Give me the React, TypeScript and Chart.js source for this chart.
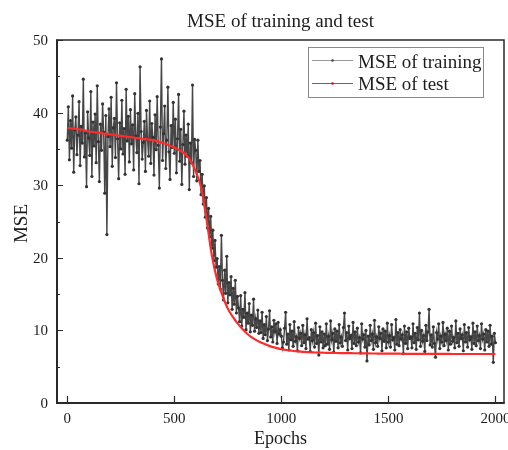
import React, { useEffect, useRef } from "react";
import { Chart, registerables } from "chart.js";

Chart.register(...registerables);

// Epoch spacing of the sampled values
const TRAIN_EPOCH_STEP = 5;
const TEST_EPOCH_STEP = 25;

// MSE of training (one value every 5 epochs, 0..2000)
const TRAIN_MSE: number[] = [
  // 0-95
  36.2, 40.8, 33.5, 38.9, 35.1, 42.3, 31.8, 37.6, 39.4, 34.2, 36.9, 41.5, 32.7, 38.1, 35.8, 44.6, 33.9, 37.2, 29.8, 40.1,
  // 100-195
  36.5, 34.1, 42.9, 31.2, 38.7, 35.4, 39.8, 33.1, 43.7, 36.0, 30.5, 38.4, 34.8, 41.2, 37.3, 28.9, 39.6, 23.2, 36.7, 40.5,
  // 200-295
  35.3, 42.1, 32.6, 37.9, 39.2, 33.8, 44.1, 36.4, 30.9, 38.6, 35.0, 41.7, 34.3, 37.8, 31.5, 43.2, 36.1, 39.5, 33.2, 40.4,
  // 300-395
  35.7, 38.3, 32.1, 42.6, 36.8, 34.5, 39.9, 30.2, 46.3, 37.4, 33.6, 35.9, 38.8, 31.9, 40.3, 36.3, 34.0, 41.6, 33.0, 38.5,
  // 400-495
  36.6, 31.4, 39.7, 34.9, 42.2, 35.5, 29.6, 38.0, 47.4, 33.4, 37.1, 40.9, 32.3, 36.2, 43.5, 34.6, 30.8, 38.2, 35.2, 41.4,
  // 500-595
  34.4, 39.1, 31.7, 36.4, 42.5, 33.3, 37.7, 30.1, 35.6, 40.2, 32.9, 36.9, 34.0, 38.4, 29.4, 35.8, 33.1, 43.8, 31.2, 36.3,
  // 600-695
  34.8, 30.6, 36.2, 31.9, 33.4, 28.7, 31.5, 27.4, 29.9, 25.6, 28.3, 24.1, 26.8, 22.9, 25.7, 21.3, 23.8, 19.6, 22.4, 18.7,
  // 700-795
  19.9, 16.4, 18.8, 15.7, 23.1, 16.9, 14.2, 18.3, 15.1, 20.2, 13.8, 16.6, 14.9, 17.4, 12.9, 15.8, 13.6, 16.9, 12.4, 14.7,
  // 800-895
  13.1, 11.2, 14.8, 10.6, 12.9, 11.8, 15.2, 10.1, 12.4, 11.0, 13.7, 9.8, 12.1, 10.7, 14.3, 9.9, 11.6, 10.4, 12.8, 9.6,
  // 900-995
  11.3, 9.7, 12.5, 8.9, 10.8, 9.4, 11.9, 8.6, 10.2, 12.7, 9.1, 10.5, 8.4, 11.4, 9.8, 10.9, 8.2, 11.1, 9.5, 10.1,
  // 1000-1095
  9.2, 7.6, 8.4, 10.3, 12.5, 8.1, 9.5, 7.3, 10.8, 8.7, 9.9, 7.8, 11.2, 8.5, 9.1, 7.2, 10.4, 8.9, 9.6, 7.9,
  // 1100-1195
  10.7, 8.3, 9.4, 7.5, 11.6, 8.8, 9.0, 7.1, 10.1, 8.6, 9.7, 7.7, 11.0, 8.2, 9.3, 6.6, 10.5, 8.4, 9.8, 7.6,
  // 1200-1295
  9.5, 7.9, 10.9, 8.1, 9.2, 7.4, 11.3, 8.7, 9.6, 7.0, 10.2, 8.5, 9.9, 7.6, 10.8, 8.3, 9.1, 7.8, 10.4, 12.4,
  // 1300-1395
  8.6, 9.7, 7.3, 10.6, 8.9, 9.3, 7.5, 11.1, 8.2, 9.8, 7.9, 10.3, 8.4, 9.0, 6.9, 10.9, 8.8, 9.4, 7.7, 10.0,
  // 1400-1495
  5.8, 9.2, 8.0, 10.7, 8.6, 9.5, 7.4, 11.4, 8.3, 9.1, 7.8, 10.5, 8.9, 9.6, 7.2, 10.2, 8.5, 9.9, 7.6, 11.0,
  // 1500-1595
  8.4, 9.3, 7.7, 10.8, 8.7, 9.0, 7.3, 11.5, 8.1, 9.7, 7.9, 10.1, 8.8, 9.4, 6.8, 10.6, 8.2, 9.8, 7.5, 10.3,
  // 1600-1695
  8.9, 9.1, 7.6, 10.9, 8.3, 9.6, 7.4, 10.4, 8.7, 12.4, 7.8, 10.0, 8.5, 9.3, 7.1, 10.7, 8.6, 9.8, 12.9, 8.0,
  // 1700-1795
  9.4, 7.7, 10.5, 8.2, 6.3, 9.7, 8.8, 10.9, 7.5, 9.2, 8.4, 11.1, 7.9, 9.5, 8.6, 10.3, 7.3, 9.9, 8.1, 10.6,
  // 1800-1895
  8.5, 9.0, 7.6, 11.3, 8.3, 9.6, 7.8, 10.2, 8.9, 9.4, 7.2, 10.8, 8.4, 9.7, 7.7, 10.4, 8.7, 9.1, 7.4, 11.0,
  // 1900-1995
  8.2, 9.8, 7.9, 10.6, 8.6, 9.3, 7.5, 10.9, 8.8, 9.5, 7.3, 10.1, 8.4, 9.9, 7.8, 10.7, 8.1, 9.2, 5.6, 9.6,
  // 2000
  8.3,
];

// MSE of test (one value every 25 epochs, 0..2000)
const TEST_MSE: number[] = [
  37.9, 37.8, 37.7, 37.6, 37.4, 37.3, 37.2, 37.1, 37.0, 36.9,
  36.8, 36.7, 36.6, 36.5, 36.4, 36.3, 36.2, 36.0, 35.8, 35.5,
  35.2, 34.8, 34.3, 33.4, 31.9, 29.7, 25.4, 20.4, 17.0, 14.8,
  13.0, 11.8, 10.8, 10.0, 9.3, 8.8, 8.4, 8.1, 7.8, 7.6,
  7.4, 7.3, 7.2, 7.1, 7.05, 7.0, 6.97, 6.94, 6.92,
  6.9, 6.89, 6.88, 6.87, 6.86, 6.85, 6.84, 6.83, 6.82, 6.81,
  6.8, 6.8, 6.79, 6.79, 6.78, 6.78, 6.77, 6.77, 6.77, 6.76,
  6.76, 6.76, 6.76, 6.75, 6.75, 6.75, 6.75, 6.75, 6.75, 6.75,
  6.75, 6.75,
];

const X_TICKS = [0, 500, 1000, 1500, 2000];
const Y_TICKS = [0, 10, 20, 30, 40, 50];
const Y_MINOR_TICKS = [5, 15, 25, 35, 45];

const TITLE = "MSE of training and test";
const X_TITLE = "Epochs";
const Y_TITLE = "MSE";
const TRAIN_LABEL = "MSE of training";
const TEST_LABEL = "MSE of test";

const SERIF = '"Liberation Serif", "Times New Roman", serif';
const TEXT = "#1c1c1c";
const TRAIN_COLOR = "#464646";
const TRAIN_POINT = "#333333";
const TEST_COLOR = "#ff2a2a";

const decorPlugin = {
  id: "decor",
  afterDraw(chart: any) {
    const ctx = chart.ctx as CanvasRenderingContext2D;
    const { left, right, top, bottom } = chart.chartArea;
    const xs = chart.scales.x;
    const ys = chart.scales.y;
    ctx.save();

    // frame
    ctx.strokeStyle = "#2a2a2a";
    ctx.lineWidth = 1.5;
    ctx.beginPath();
    ctx.moveTo(left, top);
    ctx.lineTo(right, top);
    ctx.lineTo(right, bottom);
    ctx.stroke();
    ctx.lineWidth = 2;
    ctx.beginPath();
    ctx.moveTo(left, top - 0.75);
    ctx.lineTo(left, bottom);
    ctx.lineTo(right + 0.75, bottom);
    ctx.stroke();

    // inward ticks
    ctx.lineWidth = 1.2;
    ctx.beginPath();
    for (const v of Y_TICKS) {
      const y = Math.round(ys.getPixelForValue(v)) + 0.5;
      ctx.moveTo(left, y);
      ctx.lineTo(left + 6, y);
    }
    for (const v of Y_MINOR_TICKS) {
      const y = Math.round(ys.getPixelForValue(v)) + 0.5;
      ctx.moveTo(left, y);
      ctx.lineTo(left + 3, y);
    }
    for (const v of X_TICKS) {
      const x = Math.round(xs.getPixelForValue(v)) + 0.5;
      ctx.moveTo(x, bottom);
      ctx.lineTo(x, bottom - 7);
    }
    ctx.stroke();

    // tick labels
    ctx.fillStyle = TEXT;
    ctx.font = `15px ${SERIF}`;
    ctx.textAlign = "right";
    ctx.textBaseline = "middle";
    for (const v of Y_TICKS) {
      ctx.fillText(String(v), left - 9, ys.getPixelForValue(v) + 1);
    }
    ctx.textAlign = "center";
    ctx.textBaseline = "alphabetic";
    for (const v of X_TICKS) {
      ctx.fillText(String(v), xs.getPixelForValue(v), bottom + 20);
    }

    // titles
    ctx.font = `19px ${SERIF}`;
    ctx.fillText(TITLE, (left + right) / 2, 27);
    ctx.font = `18px ${SERIF}`;
    ctx.fillText(X_TITLE, (left + right) / 2, 444);
    ctx.save();
    ctx.translate(27, (top + bottom) / 2 + 2);
    ctx.rotate(-Math.PI / 2);
    ctx.font = `19px ${SERIF}`;
    ctx.fillText(Y_TITLE, 0, 0);
    ctx.restore();

    // legend box
    const bx = 308.5, by = 47.5, bw = 175, bh = 50;
    ctx.fillStyle = "#ffffff";
    ctx.fillRect(bx, by, bw, bh);
    ctx.strokeStyle = "#8a8a8a";
    ctx.lineWidth = 1;
    ctx.strokeRect(bx, by, bw, bh);

    const lx0 = 312, lx1 = 353;
    const entries = [
      { label: TRAIN_LABEL, line: "#9a9a9a", dot: "#444444", y: 60.5, base: 68 },
      { label: TEST_LABEL, line: TEST_COLOR, dot: "#d01010", y: 83.5, base: 90 },
    ];
    for (const e of entries) {
      ctx.strokeStyle = e.line;
      ctx.lineWidth = 1.2;
      ctx.beginPath();
      ctx.moveTo(lx0, e.y);
      ctx.lineTo(lx1, e.y);
      ctx.stroke();
      ctx.fillStyle = e.dot;
      ctx.beginPath();
      ctx.arc((lx0 + lx1) / 2, e.y, 1.3, 0, Math.PI * 2);
      ctx.fill();
      ctx.fillStyle = TEXT;
      ctx.font = `19px ${SERIF}`;
      ctx.textAlign = "left";
      ctx.textBaseline = "alphabetic";
      ctx.fillText(e.label, 358, e.base);
    }
    ctx.restore();
  },
};

export default function App() {
  const ref = useRef<HTMLCanvasElement | null>(null);

  useEffect(() => {
    const prevMargin = document.body.style.margin;
    document.body.style.margin = "0";
    const canvas = ref.current;
    if (!canvas) return;

    const trainData = TRAIN_MSE.map((v, i) => ({ x: i * TRAIN_EPOCH_STEP, y: v }));
    const testData = TEST_MSE.map((v, i) => ({ x: i * TEST_EPOCH_STEP, y: v }));

    const chart = new Chart(canvas, {
      type: "line",
      data: {
        datasets: [
          {
            label: TRAIN_LABEL,
            data: trainData,
            borderColor: TRAIN_COLOR,
            borderWidth: 1.4,
            pointRadius: 1.6,
            pointBorderWidth: 0,
            pointBackgroundColor: TRAIN_POINT,
            tension: 0,
            order: 1,
          },
          {
            label: TEST_LABEL,
            data: testData,
            borderColor: TEST_COLOR,
            borderWidth: 2.2,
            pointRadius: 0,
            cubicInterpolationMode: "monotone",
            order: 0,
          },
        ],
      },
      options: {
        responsive: false,
        maintainAspectRatio: false,
        animation: false,
        devicePixelRatio: 1,
        layout: { padding: { left: 57, right: 4, top: 40, bottom: 47 } },
        plugins: {
          legend: { display: false },
          title: { display: false },
          tooltip: { enabled: false },
        },
        scales: {
          x: { type: "linear", min: -48, max: 2040, display: false },
          y: { type: "linear", min: 0, max: 50, display: false },
        },
      },
      plugins: [decorPlugin],
    });

    return () => {
      chart.destroy();
      document.body.style.margin = prevMargin;
    };
  }, []);

  return (
    <div style={{ position: "absolute", left: 0, top: 0, width: 508, height: 450, background: "#fff" }}>
      <canvas ref={ref} width={508} height={450} style={{ display: "block", width: 508, height: 450 }} />
    </div>
  );
}
